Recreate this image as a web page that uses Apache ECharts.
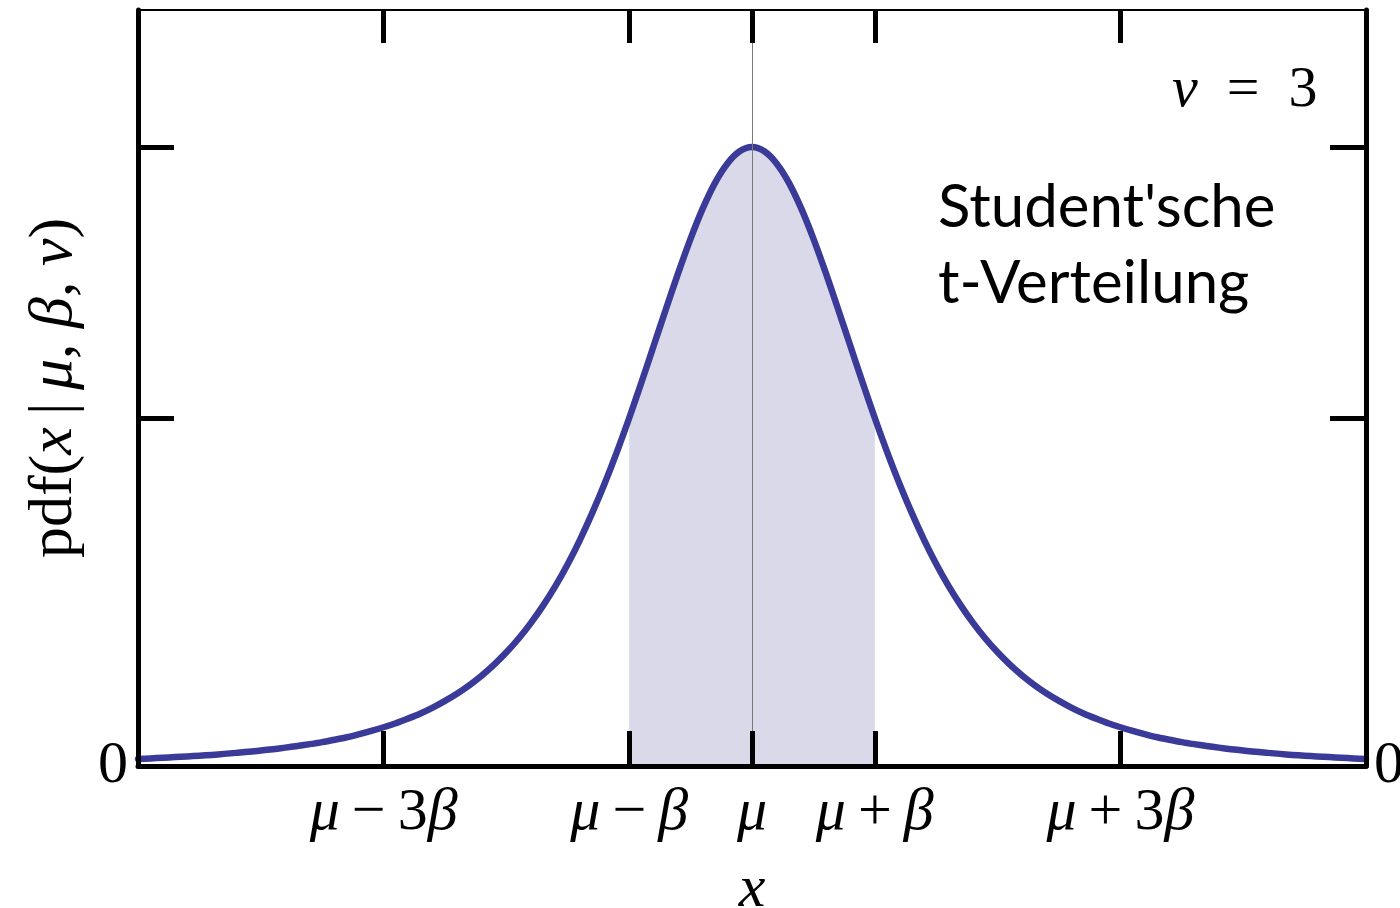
<!DOCTYPE html>
<html>
<head>
<meta charset="utf-8">
<title>Student'sche t-Verteilung</title>
<script src="https://cdn.jsdelivr.net/npm/echarts@6/dist/echarts.min.js"></script>
<style>
  html, body { margin: 0; padding: 0; background: #fff; }
  #chart { width: 1400px; height: 908px; }
</style>
</head>
<body>
<div id="chart"></div>
<script>
// Student t density, nu = 3, x in units of beta around mu
const xValues = [
  -5.0, -4.9, -4.8, -4.7, -4.6, -4.5, -4.4, -4.3, -4.2, -4.1,
  -4.0, -3.9, -3.8, -3.7, -3.6, -3.5, -3.4, -3.3, -3.2, -3.1,
  -3.0, -2.9, -2.8, -2.7, -2.6, -2.5, -2.4, -2.3, -2.2, -2.1,
  -2.0, -1.9, -1.8, -1.7, -1.6, -1.5, -1.4, -1.3, -1.2, -1.1,
  -1.0, -0.9, -0.8, -0.7, -0.6, -0.5, -0.4, -0.3, -0.2, -0.1,
  0.0,
  0.1, 0.2, 0.3, 0.4, 0.5, 0.6, 0.7, 0.8, 0.9, 1.0,
  1.1, 1.2, 1.3, 1.4, 1.5, 1.6, 1.7, 1.8, 1.9, 2.0,
  2.1, 2.2, 2.3, 2.4, 2.5, 2.6, 2.7, 2.8, 2.9, 3.0,
  3.1, 3.2, 3.3, 3.4, 3.5, 3.6, 3.7, 3.8, 3.9, 4.0,
  4.1, 4.2, 4.3, 4.4, 4.5, 4.6, 4.7, 4.8, 4.9, 5.0
];
const pdfValues = [
  0.0042, 0.0045, 0.0049, 0.0053, 0.0057, 0.0061, 0.0066, 0.0072, 0.0078, 0.0084,
  0.0092, 0.0100, 0.0109, 0.0119, 0.0130, 0.0142, 0.0156, 0.0171, 0.0189, 0.0208,
  0.0230, 0.0254, 0.0282, 0.0312, 0.0347, 0.0387, 0.0431, 0.0481, 0.0538, 0.0602,
  0.0675, 0.0757, 0.0850, 0.0954, 0.1070, 0.1200, 0.1345, 0.1505, 0.1678, 0.1866,
  0.2067, 0.2279, 0.2497, 0.2716, 0.2930, 0.3132, 0.3313, 0.3465, 0.3579, 0.3651,
  0.3676,
  0.3651, 0.3579, 0.3465, 0.3313, 0.3132, 0.2930, 0.2716, 0.2497, 0.2279, 0.2067,
  0.1866, 0.1678, 0.1505, 0.1345, 0.1200, 0.1070, 0.0954, 0.0850, 0.0757, 0.0675,
  0.0602, 0.0538, 0.0481, 0.0431, 0.0387, 0.0347, 0.0312, 0.0282, 0.0254, 0.0230,
  0.0208, 0.0189, 0.0171, 0.0156, 0.0142, 0.0130, 0.0119, 0.0109, 0.0100, 0.0092,
  0.0084, 0.0078, 0.0072, 0.0066, 0.0061, 0.0057, 0.0053, 0.0049, 0.0045, 0.0042
];

// shaded interval mu - beta .. mu + beta
const shadeFrom = -1;
const shadeTo = 1;

// axis ticks
const xTickValues = [-3, -1, 0, 1, 3];
const xTickLabels = ['μ−3β', 'μ−β', 'μ', 'μ+β', 'μ+3β'];
const yTickValues = [0.2067, 0.3676];   // density at mu +/- beta and at mu
const yLabelValues = [0];
const yLabelTexts = ['0'];

const xMin = -5, xMax = 5, yMin = 0, yMax = 0.449;

const SERIF = '"Liberation Serif", "Times New Roman", serif';
const SANS = 'Lato, "Open Sans", sans-serif';
const FS = 60;
const NAME_FS = 62;

const curveData = xValues.map((x, i) => [x, pdfValues[i]]);
const shadeData = curveData.filter(p => p[0] >= shadeFrom - 1e-9 && p[0] <= shadeTo + 1e-9);

function mathLabel(s) {
  return s.replace(/([−+])/g, '\u2009$1\u2009').replace(/([μβνx])/g, '{i|$1}');
}

const italicRich = size => ({
  i: { fontFamily: SERIF, fontStyle: 'italic', fontSize: size, color: '#000' }
});

const chart = echarts.init(document.getElementById('chart'), null, { renderer: 'canvas' });

const frameLine = w => ({ show: true, onZero: false, lineStyle: { color: '#000', width: w } });
const innerTick = (vals, len) => ({ show: true, inside: true, length: len, customValues: vals, lineStyle: { color: '#000', width: 5 } });

chart.setOption({
  animation: false,
  backgroundColor: '#fff',
  grid: { left: 138, right: 34, top: 10, bottom: 142, containLabel: false, outerBoundsMode: 'none' },
  xAxis: [
    {
      type: 'value', position: 'bottom', min: xMin, max: xMax, z: 5,
      axisLine: frameLine(5),
      axisTick: innerTick(xTickValues, 35),
      splitLine: { show: false },
      axisLabel: {
        customValues: xTickValues,
        margin: 17,
        fontFamily: SERIF, fontSize: FS, color: '#000',
        formatter: v => mathLabel(xTickLabels[xTickValues.indexOf(v)] || ''),
        rich: italicRich(FS)
      },
      name: '{i|x}', nameLocation: 'middle', nameGap: 94,
      nameTextStyle: { fontFamily: SERIF, fontSize: FS, color: '#000', rich: italicRich(FS) }
    },
    {
      type: 'value', position: 'top', min: xMin, max: xMax, z: 5,
      axisLine: frameLine(2),
      axisTick: innerTick(xTickValues, 33),
      splitLine: { show: false },
      axisLabel: { show: false }
    }
  ],
  yAxis: [
    {
      type: 'value', position: 'left', min: yMin, max: yMax, z: 5,
      axisLine: frameLine(5),
      axisTick: innerTick(yTickValues, 36),
      splitLine: { show: false },
      axisLabel: {
        customValues: yLabelValues, margin: 10,
        fontFamily: SERIF, fontSize: FS, color: '#000',
        formatter: v => yLabelTexts[yLabelValues.indexOf(v)] || ''
      },
      name: 'pdf({i|x}\u2009|\u2009{i|μ}, {i|β}, {i|ν})',
      nameLocation: 'middle', nameRotate: 90, nameGap: 52,
      nameTextStyle: { fontFamily: SERIF, fontSize: NAME_FS, color: '#000', rich: italicRich(NAME_FS) }
    },
    {
      type: 'value', position: 'right', min: yMin, max: yMax, z: 5,
      axisLine: frameLine(5),
      axisTick: innerTick(yTickValues, 36),
      splitLine: { show: false },
      axisLabel: {
        customValues: yLabelValues, margin: 8,
        fontFamily: SERIF, fontSize: FS, color: '#000',
        formatter: v => yLabelTexts[yLabelValues.indexOf(v)] || ''
      }
    }
  ],
  series: [
    {
      name: 'shade', type: 'line', data: shadeData, smooth: 0.3, symbol: 'none', silent: true, z: 1,
      lineStyle: { width: 0 },
      areaStyle: { color: '#d9d9e9', opacity: 1 }
    },
    {
      name: 'pdf', type: 'line', data: curveData, smooth: 0.3, symbol: 'none', silent: true, z: 2,
      lineStyle: { color: '#3a3a98', width: 6.5, join: 'round', cap: 'round' }
    },
    {
      name: 'mu', type: 'line', data: [], silent: true, z: 3,
      markLine: {
        silent: true, symbol: 'none', animation: false,
        label: { show: false },
        lineStyle: { color: '#7a7a7a', width: 1, type: 'solid' },
        data: [{ xAxis: 0 }]
      }
    }
  ],
  graphic: [
    {
      type: 'text', x: 1172, y: 91, z: 10,
      style: {
        text: '{i|ν}  =  3',
        rich: { i: { fontFamily: SERIF, fontStyle: 'italic', fontSize: 58, fill: '#000' } },
        fontFamily: SERIF, fontSize: 58, fill: '#000',
        verticalAlign: 'middle', align: 'left'
      }
    },
    {
      type: 'text', x: 938, y: 170, z: 10,
      style: {
        text: "Student'sche\nt-Verteilung",
        fontFamily: SANS, fontSize: 60, lineHeight: 76, fill: '#000',
        verticalAlign: 'top', align: 'left'
      }
    }
  ]
});
</script>
</body>
</html>
